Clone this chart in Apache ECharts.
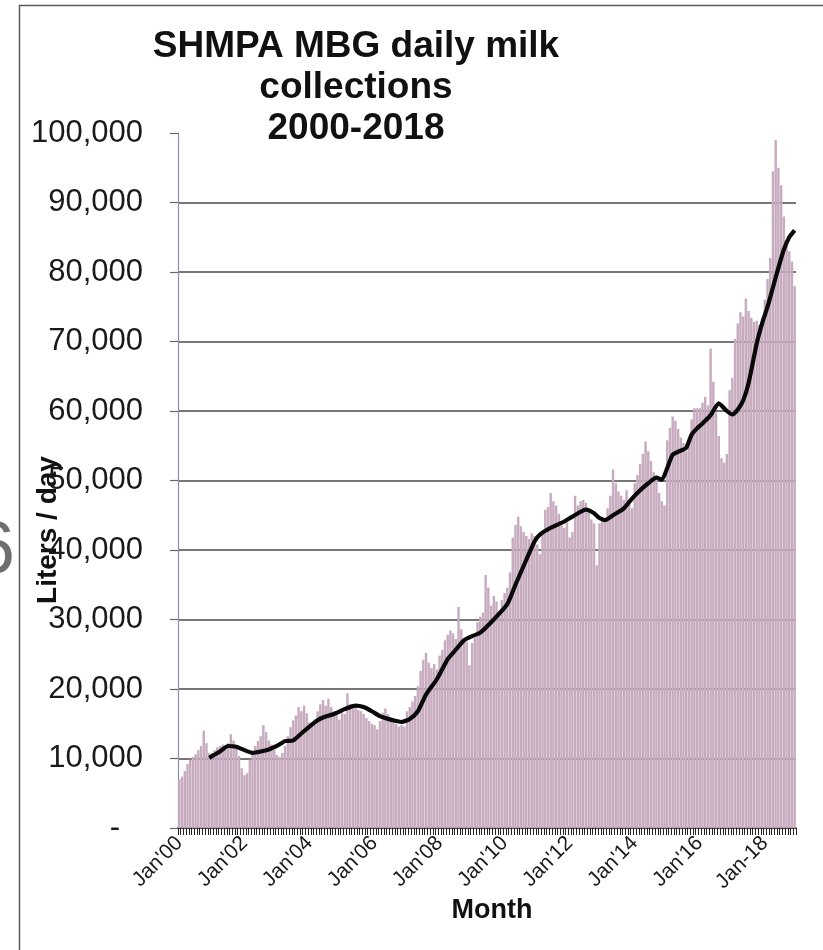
<!DOCTYPE html>
<html>
<head>
<meta charset="utf-8">
<script src="https://cdn.jsdelivr.net/npm/echarts@6/dist/echarts.min.js"></script>
<style>
html,body{margin:0;padding:0;background:#fff;}
#chart{width:823px;height:950px;}
</style>
</head>
<body>
<div id="chart"></div>
<script>
// ---- data ----
const monthNames = ['Jan','Feb','Mar','Apr','May','Jun','Jul','Aug','Sep','Oct','Nov','Dec'];
const years = [2000,2001,2002,2003,2004,2005,2006,2007,2008,2009,2010,2011,2012,2013,2014,2015,2016,2017,2018];

const liters2000 = [7000, 7400, 8200, 9200, 9800, 10200, 10600, 11200, 11800, 14000, 12200, 10800];
const liters2001 = [10800, 11200, 11600, 11800, 12000, 11500, 12200, 13500, 12600, 11800, 10400, 8600];
const liters2002 = [7600, 7900, 9800, 10800, 11800, 12500, 13200, 14800, 13800, 12600, 12000, 11200];
const liters2003 = [10500, 10200, 10800, 11800, 13200, 14500, 15500, 16200, 17400, 16800, 17600, 16500];
const liters2004 = [15200, 14800, 15600, 16800, 17800, 18400, 17600, 18600, 17400, 16800, 16200, 15600];
const liters2005 = [16800, 16400, 19400, 17800, 17200, 17600, 17000, 16800, 16400, 15800, 15400, 15000];
const liters2006 = [14800, 14200, 15400, 16600, 17200, 16400, 15800, 15400, 15000, 14600, 14800, 14600];
const liters2007 = [16800, 17400, 18200, 19000, 20400, 22600, 24200, 25200, 23800, 23000, 23600, 22800];
const liters2008 = [24800, 25600, 27000, 27800, 28400, 28000, 27200, 31800, 28600, 27000, 26800, 23400];
const liters2009 = [26600, 27400, 29600, 30400, 31000, 36400, 34600, 32000, 33400, 32600, 31200, 32800];
const liters2010 = [33800, 34600, 36800, 41800, 43600, 44800, 43400, 42600, 42000, 41600, 42400, 42000];
const liters2011 = [40800, 39400, 42600, 45800, 46200, 48200, 47000, 46400, 45200, 44000, 43200, 44000];
const liters2012 = [41800, 42600, 47800, 46400, 47000, 47200, 46800, 45600, 44400, 43800, 37800, 43800];
const liters2013 = [44800, 44200, 46000, 47800, 51600, 49600, 48400, 47800, 47200, 48600, 46800, 46000];
const liters2014 = [49600, 50800, 52400, 53800, 55600, 54200, 52800, 51200, 50200, 48200, 47000, 46400];
const liters2015 = [55800, 57600, 59200, 58600, 57400, 56200, 55400, 54200, 56000, 58800, 60400, 60400];
const liters2016 = [60400, 61200, 62000, 60800, 69000, 64200, 59800, 56400, 53200, 52600, 53800, 63000];
const liters2017 = [64800, 70400, 72600, 74200, 73600, 76200, 74400, 73400, 72800, 73000, 72400, 73400];
const liters2018 = [76000, 79000, 82000, 94500, 99000, 95000, 92500, 88000, 84500, 83000, 81500, 78000];

// moving-average trend line
const maMonths = ["Dec'00","Apr'01","Jul'01","Oct'01","Jan'02","Apr'02","Jul'02","Oct'02","Jan'03","Apr'03","Jul'03","Oct'03",
  "Jan'04","Apr'04","Jun'04","Oct'04","Feb'05","Jun'05","Sep'05","Dec'05","Mar'06","Jun'06","Sep'06","Nov'06",
  "Feb'07","May'07","Aug'07","Dec'07","Apr'08","Jun'08","Oct'08","Jan'09","Apr'09","Sep'09","Feb'10","May'10",
  "Sep'10","Dec'10","Feb'11","Jun'11","Nov'11","Feb'12","Jul'12","Oct'12","Dec'12","Feb'13","May'13","Sep'13",
  "Dec'13","Mar'14","Jun'14","Sep'14","Nov'14","Jan'15","Mar'15","Jun'15","Aug'15","Oct'15","Dec'15","Feb'16",
  "May'16","Aug'16","Sep'16","Nov'16","Jan'17","Mar'17","May'17","Jul'17","Oct'17","Dec'17","Feb'18","Apr'18",
  "Jun'18","Aug'18","Oct'18","Dec'18"];
const maValues = [10100,11000,11800,11700,11200,10800,11000,11300,11800,12500,12600,13600,
  14600,15500,15900,16400,17100,17600,17400,16800,16100,15700,15400,15250,
  15700,16800,19200,21400,24300,25200,27000,27600,28100,30000,32200,35000,
  38600,41200,42200,43200,44100,44800,45800,45300,44600,44300,45000,46000,
  47400,48600,49600,50400,50100,51800,53700,54300,54700,56600,57500,58200,
  59400,61100,60800,60000,59500,60200,61500,64000,69700,72600,75000,77800,
  80600,83200,85000,86000];

const xTickLabels = ["Jan'00","Jan'02","Jan'04","Jan'06","Jan'08","Jan'10","Jan'12","Jan'14","Jan'16","Jan-18"];
const yTicks = [0,10000,20000,30000,40000,50000,60000,70000,80000,90000,100000];

const titleText = 'SHMPA MBG daily milk\ncollections\n2000-2018';
const yName = 'Liters / day';
const xName = 'Month';

// ---- build ----
const categories = [];
years.forEach(y => monthNames.forEach(m => categories.push(m + "'" + String(y).slice(2))));
const monthly = [].concat(liters2000, liters2001, liters2002, liters2003, liters2004, liters2005, liters2006,
  liters2007, liters2008, liters2009, liters2010, liters2011, liters2012, liters2013, liters2014, liters2015,
  liters2016, liters2017, liters2018);
const maData = maMonths.map((m, k) => [m, maValues[k]]);

const FONT = 'Liberation Sans, Arial, sans-serif';
const chart = echarts.init(document.getElementById('chart'), null, {renderer: 'canvas'});
chart.setOption({
  animation: false,
  backgroundColor: '#ffffff',
  title: {
    text: titleText,
    left: 356, top: 26, textAlign: 'center', padding: 0,
    textStyle: {fontFamily: FONT, fontSize: 37, fontWeight: 'bold', color: '#111', lineHeight: 41, align: 'center'}
  },
  grid: {left: 178, right: 27, top: 133, bottom: 122, containLabel: false},
  xAxis: {
    type: 'category',
    data: categories,
    boundaryGap: true,
    axisLine: {show: true, lineStyle: {color: '#111', width: 1.5}},
    axisTick: {show: true, interval: 0, length: 7, lineStyle: {color: '#222', width: 1}},
    axisLabel: {
      interval: (idx) => idx % 24 === 0,
      formatter: (v, idx) => (idx % 24 === 0 ? xTickLabels[idx / 24] : ''),
      rotate: 45, margin: 12,
      fontFamily: FONT, fontSize: 21, color: '#1a1a1a'
    },
    splitLine: {show: false}
  },
  yAxis: {
    type: 'value',
    min: 0, max: 100000, interval: 10000,
    axisLine: {show: true, lineStyle: {color: '#8a90b2', width: 1.2}},
    axisTick: {show: true, length: 8, lineStyle: {color: '#666', width: 1.2}},
    axisLabel: {
      margin: 35,
      fontFamily: FONT, fontSize: 31, color: '#1a1a1a',
      formatter: (v) => (v === 0 ? '{d|-}' : (yTicks.indexOf(v) >= 0 ? v.toLocaleString('en-US') : '')),
      rich: {d: {fontFamily: FONT, fontSize: 31, color: '#1a1a1a', padding: [0, 23, 0, 0]}}
    },
    splitLine: {show: true, showMinLine: false, showMaxLine: false, lineStyle: {color: '#4a4a4a', width: 1.6}}
  },
  series: [
    {
      type: 'bar',
      data: monthly,
      barCategoryGap: '10%',
      itemStyle: {color: '#c7abbf'},
      z: 2
    },
    {
      type: 'line',
      data: maData,
      showSymbol: false,
      symbol: 'none',
      smooth: 0.2,
      lineStyle: {color: '#0a0a0a', width: 4.2},
      z: 3
    }
  ],
  graphic: [
    {type: 'rect', silent: true, shape: {x: 19.5, y: 5.5, width: 900, height: 1000},
     style: {fill: 'none', stroke: '#5a5a5a', lineWidth: 1.5}},
    {type: 'text', silent: true, x: 48, y: 530, rotation: Math.PI / 2,
     style: {text: yName, fontFamily: FONT, fontSize: 28, fontWeight: 'bold', fill: '#111', align: 'center', verticalAlign: 'middle'}},
    {type: 'text', silent: true, x: 492, y: 911,
     style: {text: xName, fontFamily: FONT, fontSize: 27, fontWeight: 'bold', fill: '#111', align: 'center', verticalAlign: 'middle'}},
    {type: 'text', silent: true, x: 15, y: 553,
     style: {text: '6', fontFamily: FONT, fontSize: 74, fill: '#6e6e6e', align: 'right', verticalAlign: 'middle'}}
  ]
});
</script>
</body>
</html>
